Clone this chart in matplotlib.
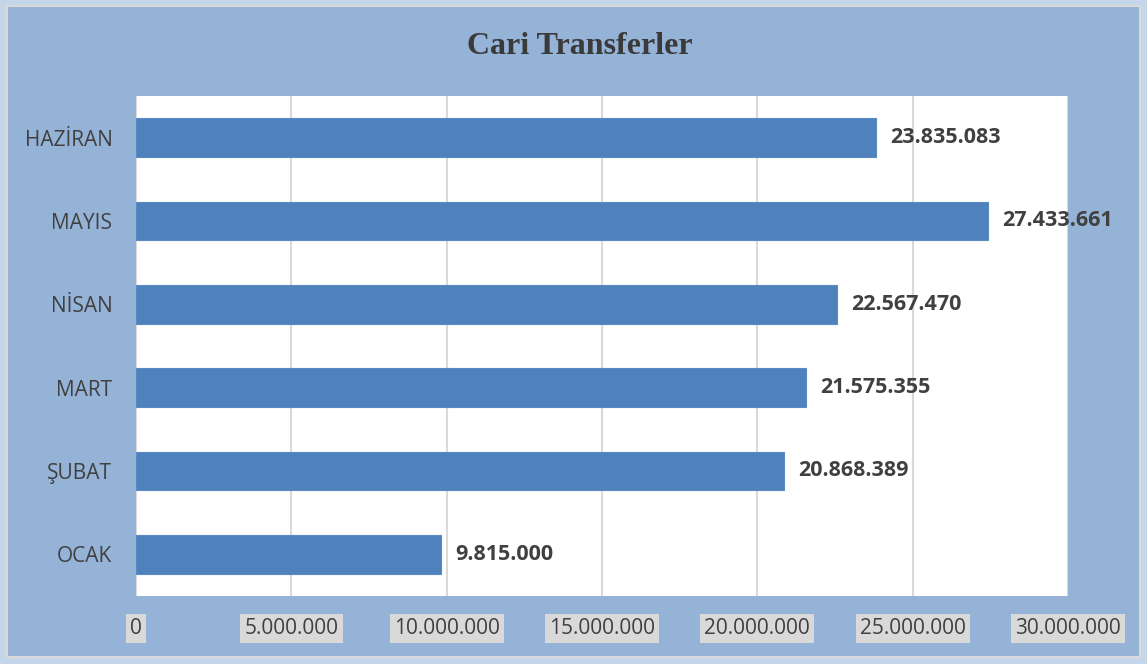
import matplotlib.pyplot as plt
from matplotlib.patches import Rectangle
from matplotlib.ticker import FuncFormatter

months = ["OCAK", "ŞUBAT", "MART", "NİSAN", "MAYIS", "HAZİRAN"]
values = [9815000, 20868389, 21575355, 22567470, 27433661, 23835083]
xticks = [0, 5000000, 10000000, 15000000, 20000000, 25000000, 30000000]

W, H = 1147, 664
fig = plt.figure(figsize=(W / 100, H / 100), dpi=100, facecolor="#c6d6ea")

# inner chart area with thin grey edge
fig.patches.append(Rectangle((7 / W, 7 / H), (W - 14) / W, (H - 13) / H,
                             transform=fig.transFigure, facecolor="#95b3d7",
                             edgecolor="#d9d9d9", linewidth=1.5, zorder=-10))

ax = fig.add_axes([136 / W, 68 / H, 932 / W, 500 / H])
ax.set_zorder(1)
ax.set_facecolor("white")

bars = ax.barh(range(len(months)), values, height=0.465, color="#4f81bd",
               edgecolor="#5a8ac6", linewidth=0.8, zorder=3)

for i, v in enumerate(values):
    ax.annotate(f"{v:,}".replace(",", "."), (v, i), xytext=(10, 0),
                textcoords="offset points", va="center", ha="left",
                fontsize=15.5, fontweight="bold", color="#404040",
                family="Open Sans", zorder=5, annotation_clip=False)

ax.set_xlim(0, 30000000)
ax.set_ylim(-0.5, len(months) - 0.5)
ax.set_xticks(xticks)
ax.xaxis.set_major_formatter(FuncFormatter(lambda v, p: f"{int(v):,}".replace(",", ".")))
ax.set_yticks(range(len(months)))
ax.set_yticklabels(months)

ax.grid(axis="x", color="#d9d9d9", linewidth=1.5, zorder=0)
ax.set_axisbelow(True)
for s in ax.spines.values():
    s.set_visible(False)

ax.tick_params(axis="both", length=0, colors="#404040", labelsize=15)
ax.tick_params(axis="x", pad=16)
ax.tick_params(axis="y", pad=17)
for lbl in ax.get_xticklabels() + ax.get_yticklabels():
    lbl.set_family("Open Sans")
for lbl in ax.get_xticklabels():
    lbl.set_bbox(dict(facecolor="#d9d9d9", edgecolor="none", pad=3))

fig.text(580 / W, 1 - 46 / H, "Cari Transferler", ha="center", va="center",
         fontsize=23, fontweight="bold", family="Liberation Serif", color="#3a3a3a")

fig.savefig("out.png", dpi=100, facecolor=fig.get_facecolor())
